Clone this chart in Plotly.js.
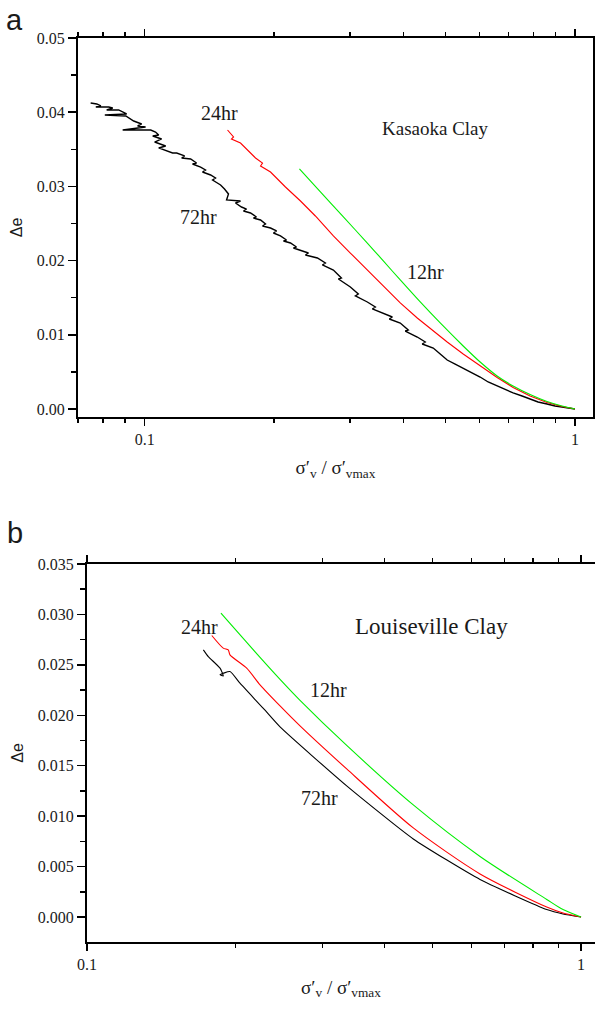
<!DOCTYPE html>
<html><head><meta charset="utf-8">
<script src="https://cdn.plot.ly/plotly-3.0.1.min.js"></script>
<style>html,body{margin:0;padding:0;background:#fff}#chart{width:595px;height:1009px}</style>
</head><body><div id="chart"></div><script>
// ---------- Data (a) Kasaoka Clay ----------
const kasaoka72_x = [0.0749,0.0774,0.0791,0.0770,0.0825,0.0843,0.0816,0.0870,0.0908,0.0808,0.0904,0.0918,0.0943,0.0984,0.0963,0.1005,0.0889,0.1033,0.1060,0.1078,0.1044,0.1095,0.1055,0.1119,0.1078,0.1161,0.1187,0.1238,0.1219,0.1279,0.1320,0.1292,0.1349,0.1385,0.1363,0.1423,0.1461,0.1438,0.1501,0.1533,0.1566,0.1550,0.1670,0.1626,0.1679,0.1725,0.1697,0.1762,0.1819,0.1790,0.1859,0.1909,0.1879,0.1961,0.2025,0.1992,0.2068,0.2136,0.2102,0.2182,0.2253,0.2217,0.2302,0.2402,0.2364,0.2520,0.2630,0.2588,0.2745,0.2865,0.2820,0.3006,0.3137,0.3088,0.3292,0.3436,0.3381,0.3586,0.3763,0.3703,0.3926,0.4098,0.4033,0.4300,0.4488,0.4416,0.4684,0.4862,0.5047,0.5267,0.5498,0.5768,0.6020,0.6283,0.6593,0.6880,0.7181,0.7535,0.7864,0.8208,0.8610,0.8986,0.9329,1.0];
const kasaoka72_y = [0.04124,0.04111,0.04084,0.04070,0.04070,0.04057,0.04030,0.04030,0.03976,0.03962,0.03949,0.03922,0.03881,0.03841,0.03814,0.03801,0.03760,0.03760,0.03733,0.03693,0.03679,0.03639,0.03598,0.03544,0.03518,0.03450,0.03450,0.03410,0.03383,0.03369,0.03315,0.03302,0.03261,0.03221,0.03194,0.03154,0.03113,0.03086,0.03019,0.02965,0.02898,0.02817,0.02803,0.02776,0.02722,0.02695,0.02668,0.02642,0.02588,0.02574,0.02547,0.02493,0.02466,0.02439,0.02399,0.02372,0.02332,0.02278,0.02264,0.02237,0.02183,0.02170,0.02143,0.02102,0.02075,0.02035,0.01968,0.01941,0.01873,0.01765,0.01752,0.01644,0.01550,0.01523,0.01442,0.01375,0.01348,0.01294,0.01240,0.01213,0.01159,0.01065,0.01051,0.00970,0.00903,0.00876,0.00822,0.00741,0.00660,0.00606,0.00553,0.00485,0.00431,0.00364,0.00310,0.00256,0.00216,0.00175,0.00135,0.00094,0.00067,0.00040,0.00027,0];
const kasaoka24_x = [0.1558,0.1609,0.1591,0.1670,0.1810,0.1879,0.1859,0.1961,0.2124,0.2302,0.2493,0.2745,0.3006,0.3292,0.3586,0.3926,0.4300,0.4684,0.5047,0.5498,0.6020,0.6593,0.7181,0.7864,0.8610,0.9329,1.0];
const kasaoka24_y = [0.03760,0.03666,0.03639,0.03585,0.03383,0.03315,0.03275,0.03194,0.02992,0.02803,0.02601,0.02332,0.02102,0.01873,0.01644,0.01429,0.01226,0.01051,0.00903,0.00741,0.00580,0.00425,0.00290,0.00175,0.00088,0.00034,0];
const kasaoka12_x = [0.2289,0.2561,0.2896,0.3292,0.3586,0.3926,0.4369,0.4862,0.5498,0.6020,0.6593,0.7181,0.7864,0.8610,0.9329,1.0];
const kasaoka12_y = [0.03235,0.02925,0.02588,0.02237,0.01995,0.01739,0.01442,0.01159,0.00849,0.00633,0.00445,0.00310,0.00195,0.00101,0.00040,0];

// ---------- Data (b) Louiseville Clay ----------
const louis72_x = [0.1720,0.1760,0.1859,0.1887,0.1859,0.1947,0.2040,0.2275,0.2459,0.3355,0.4576,0.6246,0.8523,0.9195,1.0];
const louis72_y = [0.02649,0.02582,0.02467,0.02391,0.02401,0.02434,0.02318,0.02068,0.01885,0.01300,0.00774,0.00372,0.00074,0.00030,0];
const louis24_x = [0.1789,0.1887,0.1932,0.1947,0.2105,0.2240,0.2459,0.2699,0.3355,0.4576,0.6246,0.8523,0.9195,1.0];
const louis24_y = [0.02791,0.02666,0.02649,0.02599,0.02467,0.02302,0.02093,0.01895,0.01468,0.00883,0.00427,0.00099,0.00040,0];
const louis12_x = [0.1867,0.1947,0.2240,0.2459,0.2699,0.3355,0.4576,0.6246,0.8523,0.9195,1.0];
const louis12_y = [0.03013,0.02912,0.02574,0.02356,0.02148,0.01701,0.01111,0.00600,0.00174,0.00074,0];

// ---------- Tick labels ----------
const xMajorVals = [0.1, 1];
const xMajorText = ['0.1', '1'];
const xMinorTop = [0.07,0.08,0.09,0.2,0.3,0.4,0.5,0.6,0.7,0.8,0.9];
const xMinorBottom = [0.2,0.3,0.4,0.5,0.6,0.7,0.8,0.9];

const SERIF = 'Liberation Serif';
const SANS = 'Liberation Sans';
const GREEN = '#00ee00', RED = '#ff0000', BLACK = '#000000';

const traces = [
  {x: kasaoka72_x, y: kasaoka72_y, xaxis:'x', yaxis:'y', mode:'lines', line:{color:BLACK, width:1.4}, name:'72hr'},
  {x: kasaoka24_x, y: kasaoka24_y, xaxis:'x', yaxis:'y', mode:'lines', line:{color:RED, width:1.1}, name:'24hr'},
  {x: kasaoka12_x, y: kasaoka12_y, xaxis:'x', yaxis:'y', mode:'lines', line:{color:GREEN, width:1.1, shape:'spline', smoothing:0.8}, name:'12hr'},
  {x: louis72_x, y: louis72_y, xaxis:'x2', yaxis:'y2', mode:'lines', line:{color:BLACK, width:1.1, shape:'spline', smoothing:0.5}, name:'72hr'},
  {x: louis24_x, y: louis24_y, xaxis:'x2', yaxis:'y2', mode:'lines', line:{color:RED, width:1.1, shape:'spline', smoothing:0.7}, name:'24hr'},
  {x: louis12_x, y: louis12_y, xaxis:'x2', yaxis:'y2', mode:'lines', line:{color:GREEN, width:1.1, shape:'spline', smoothing:0.8}, name:'12hr'}
];

const xTitle = 'σ′<sub>v</sub> / σ′<sub>vmax</sub>';

function xAxis(domain, range, anchor, minorVals, standoff) {
  return {
    type: 'log', domain: domain, range: range, anchor: anchor,
    tickmode: 'array', tickvals: xMajorVals, ticktext: xMajorText,
    ticks: 'outside', ticklen: 7, tickwidth: 1.5, tickcolor: '#000',
    minor: {tickmode: 'array', tickvals: minorVals, ticks: 'outside', ticklen: 4, tickwidth: 1.5, tickcolor: '#000', showgrid: false},
    showline: true, linewidth: 2, linecolor: '#000', mirror: 'ticks',
    showgrid: false, zeroline: false,
    tickfont: {family: SERIF, size: 16, color: '#1a1a1a'},
    title: {text: xTitle, font: {family: SERIF, size: 19, color: '#1a1a1a'}, standoff: standoff}
  };
}
function yAxis(domain, range, anchor, dtick, minorD, fmt, mirror) {
  return {
    domain: domain, range: range, anchor: anchor,
    tickmode: 'linear', tick0: 0, dtick: dtick, tickformat: fmt,
    ticks: 'outside', ticklen: 8, tickwidth: 1.5, tickcolor: '#000',
    minor: {tickmode: 'linear', tick0: 0, dtick: minorD, ticks: 'outside', ticklen: 5, tickwidth: 1.5, tickcolor: '#000', showgrid: false},
    showline: true, linewidth: 2, linecolor: '#000', mirror: mirror,
    showgrid: false, zeroline: false,
    tickfont: {family: SERIF, size: 16, color: '#1a1a1a'},
    title: {text: 'Δe', font: {family: SANS, size: 16, color: '#1a1a1a'}, standoff: 10}
  };
}

function lab(text, x, y, size, fam) {
  return {text: text, x: x, y: y, xref: 'paper', yref: 'paper', xanchor: 'center', yanchor: 'middle',
          showarrow: false, font: {family: fam || SERIF, size: size, color: '#1a1a1a'}};
}

const layout = {
  width: 595, height: 1009,
  margin: {l: 0, r: 0, t: 0, b: 0},
  paper_bgcolor: '#fff', plot_bgcolor: '#fff',
  showlegend: false,
  font: {family: SERIF, color: '#1a1a1a', size: 16},
  xaxis: xAxis([0.1311, 0.9966], [-1.1549, 0.0418], 'y', xMinorTop, 14),
  yaxis: yAxis([0.58672, 0.96234], [-0.00108, 0.05], 'x', 0.01, 0.005, '.2f', 'ticks'),
  xaxis2: xAxis([0.14622, 1], [-1, 0.0283], 'y2', xMinorBottom, 8),
  yaxis2: yAxis([0.0664, 0.44103], [-0.00248, 0.035], 'x2', 0.005, 0.0025, '.3f', false),
  annotations: [
    lab('a', 0.0252, 0.9802, 29, SANS),
    lab('b', 0.0252, 0.4718, 29, SANS),
    lab('24hr', 0.3681, 0.8880, 20),
    lab('72hr', 0.3328, 0.7849, 20),
    lab('Kasaoka Clay', 0.7311, 0.8731, 19),
    lab('12hr', 0.7143, 0.7304, 20),
    lab('24hr', 0.3345, 0.3786, 20),
    lab('Louiseville Clay', 0.7244, 0.3786, 23),
    lab('12hr', 0.5513, 0.3162, 20),
    lab('72hr', 0.5378, 0.2091, 20)
  ]
};

Plotly.newPlot('chart', traces, layout, {staticPlot: true, displayModeBar: false});
</script></body></html>
